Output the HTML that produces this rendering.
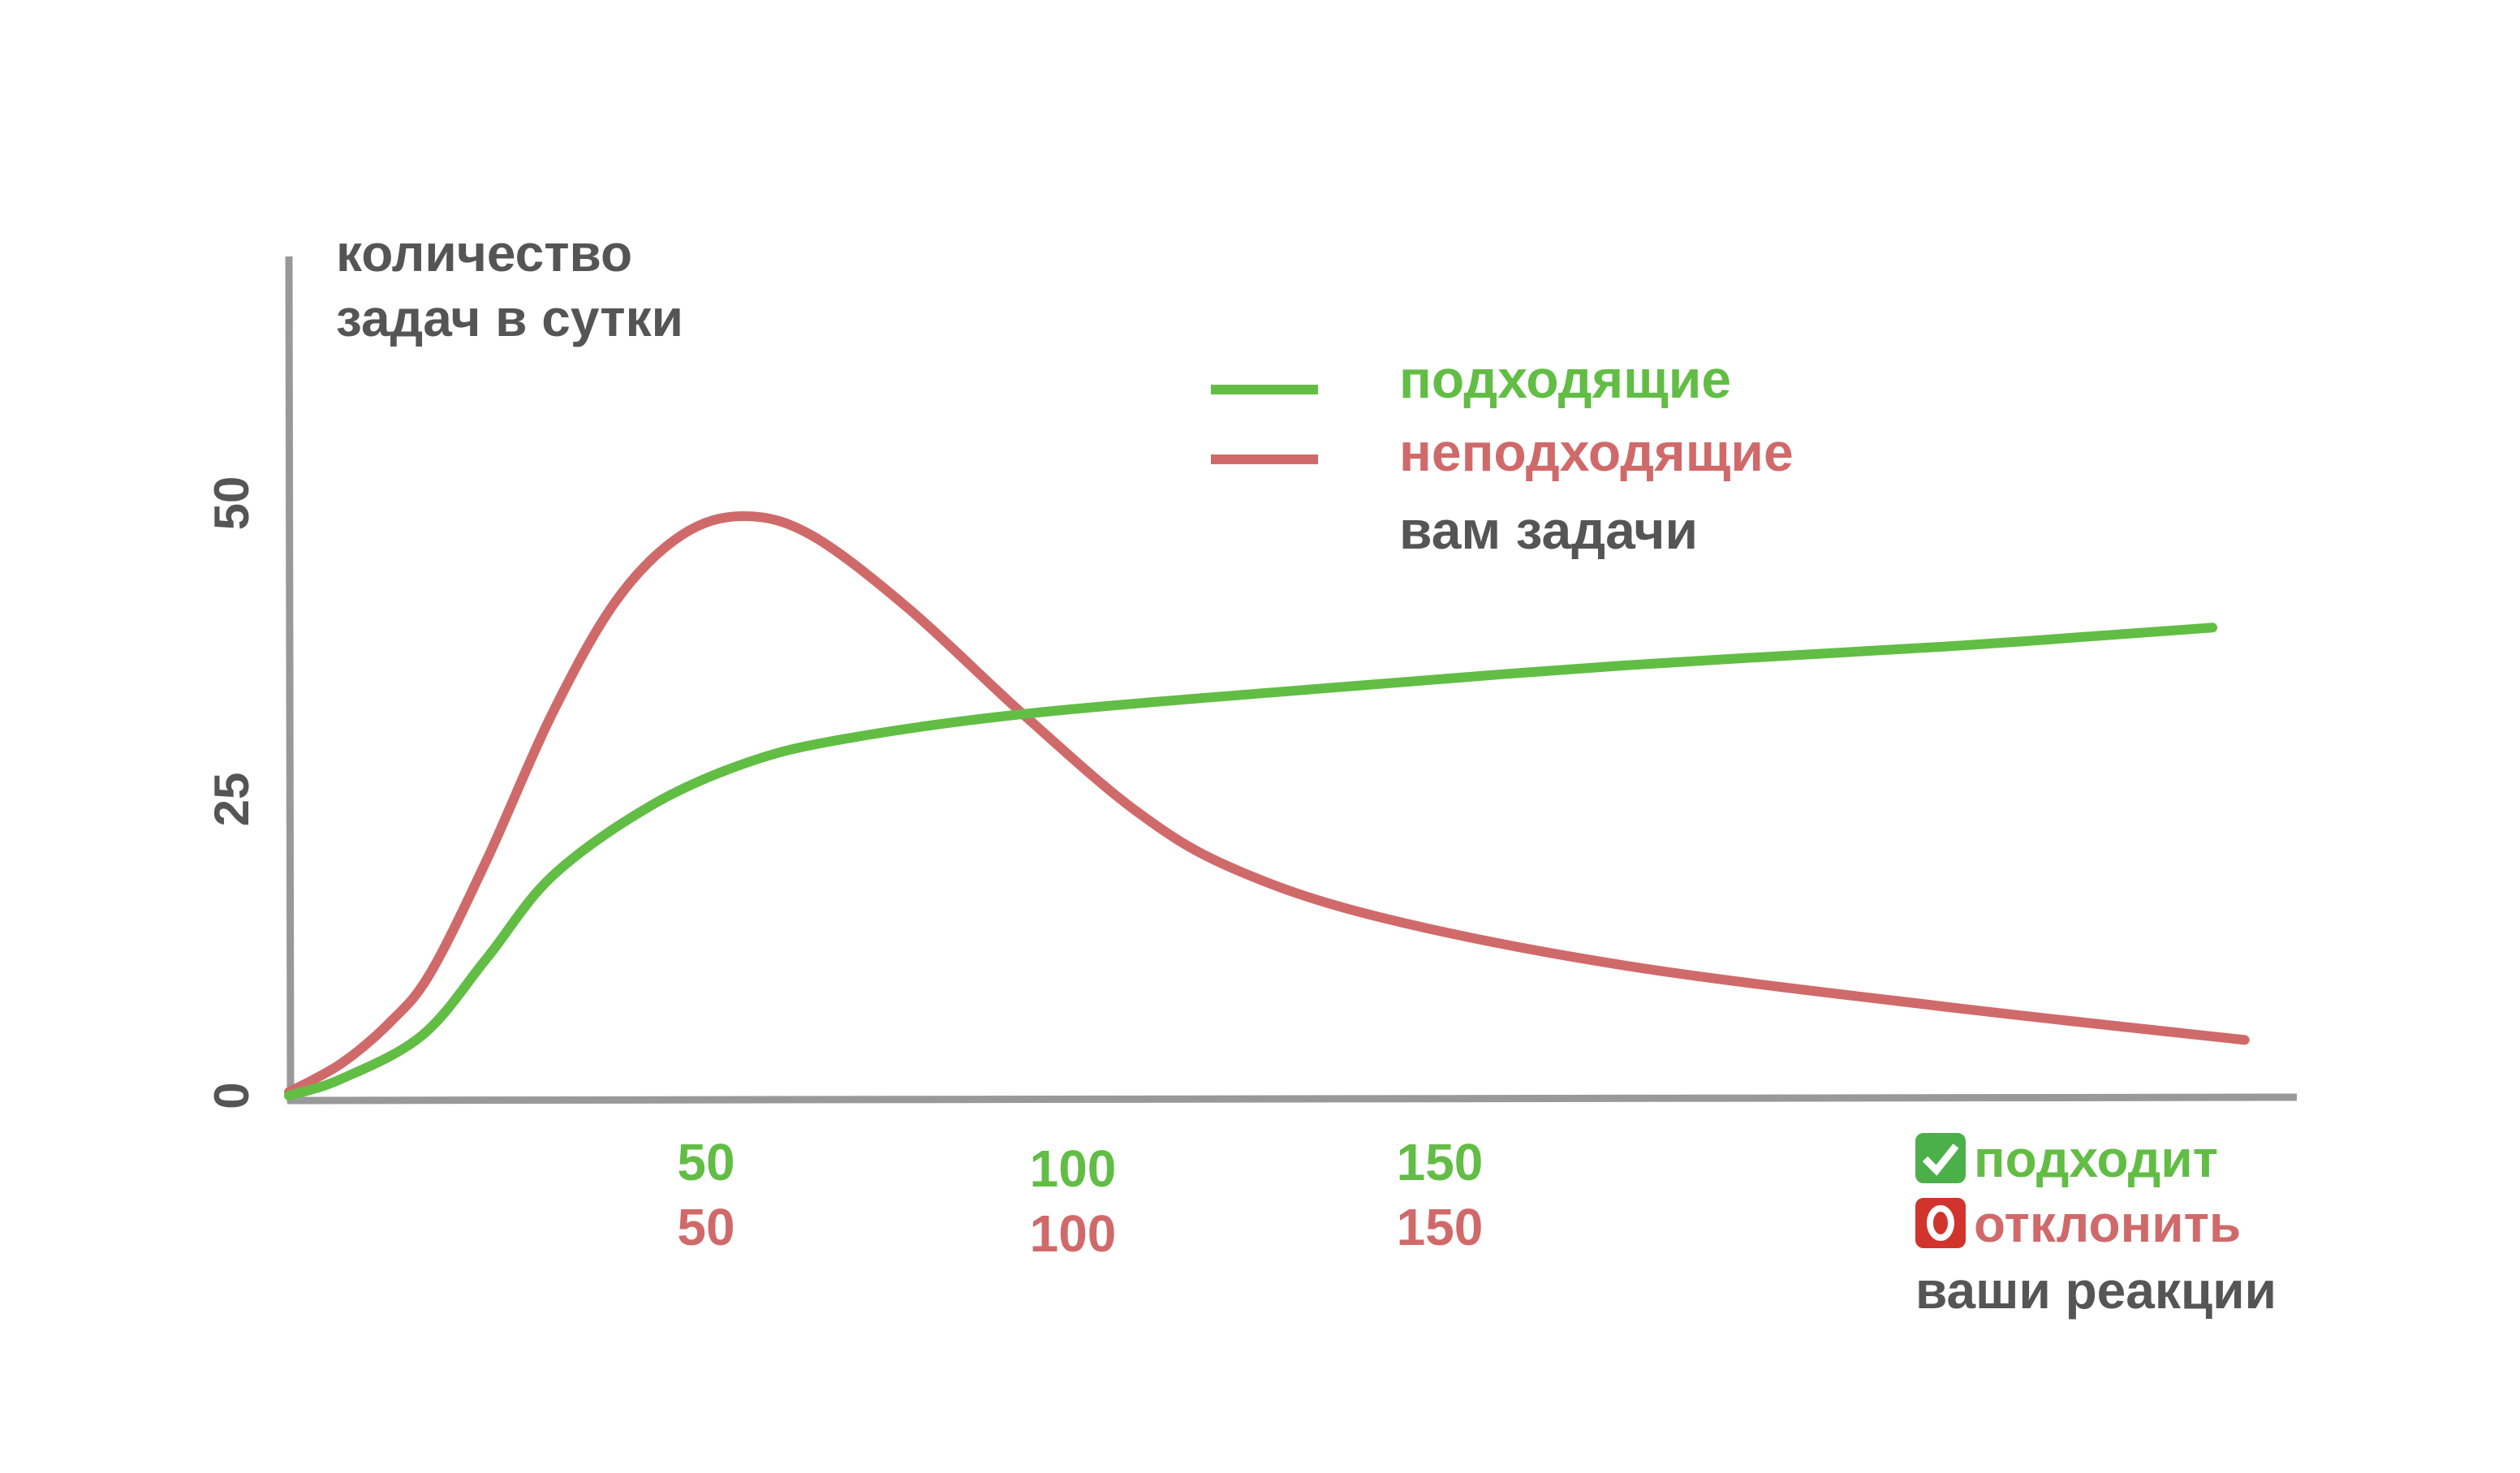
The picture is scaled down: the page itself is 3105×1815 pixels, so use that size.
<!DOCTYPE html>
<html><head><meta charset="utf-8"><style>
html,body{margin:0;padding:0;background:#fff;}
svg{display:block;font-family:"Liberation Sans",sans-serif;font-weight:bold;}
</style></head><body>
<svg id="chart" width="3105" height="1815" viewBox="0 0 3105 1815" xmlns="http://www.w3.org/2000/svg">
<rect width="3105" height="1815" fill="#fff"/>
<g id="axes">
<line x1="356" y1="316" x2="358" y2="1358" stroke="#999" stroke-width="9"/>
<line x1="354" y1="1356" x2="2830" y2="1352" stroke="#999" stroke-width="9"/>
</g>
<text x="414" y="334" font-size="64" fill="#555">количество</text>
<text x="414" y="414" font-size="64" fill="#555">задач в сутки</text>
<g id="yticks"></g>
<g id="xticks"></g>
<g id="series"></g>
<g>
<line x1="1492" y1="480" x2="1624" y2="480" stroke="#62bd45" stroke-width="12"/>
<line x1="1492" y1="566" x2="1624" y2="566" stroke="#d06a6a" stroke-width="12"/>
<text x="1724" y="490" font-size="66" fill="#62bd45">подходящие</text>
<text x="1724" y="580" font-size="66" fill="#d06a6a">неподходящие</text>
<text x="1724" y="676" font-size="66" fill="#555">вам задачи</text>
</g>
<g>
<rect x="2360" y="1396" width="62" height="62" rx="10" fill="#4cb04a"/>
<path d="M2372 1428 l14 14 l24 -30" stroke="#fff" stroke-width="9" fill="none"/>
<text x="2432" y="1450" font-size="64" fill="#62bd45">подходит</text>
<rect x="2360" y="1476" width="62" height="62" rx="10" fill="#d0342c"/>
<ellipse cx="2391" cy="1507" rx="13" ry="18" stroke="#fff" stroke-width="8" fill="none"/>
<text x="2432" y="1530" font-size="64" fill="#d06a6a">отклонить</text>
<text x="2360" y="1612" font-size="64" fill="#555">ваши реакции</text>
</g>
</svg>
<script>
const yTicks = [0, 25, 50];
const xTicks = [50, 100, 150];
const greenX = [0, 6.8, 17.4, 25.8, 34.3, 47, 59.7, 72.4, 95.7, 131.6, 174, 216, 250.8];
const greenY = [0, 1.4, 5.1, 11.6, 18.5, 24.4, 28.1, 30.1, 32.2, 34.2, 36.3, 37.9, 39.5];
const redX = [0, 6.8, 13.2, 18.4, 25.8, 34.3, 42.7, 51.2, 59.3, 68.1, 80.8, 95.7, 110.5, 123, 142, 174, 216, 255];
const redY = [0.3, 2.7, 6.2, 10.3, 19.9, 32.2, 41.8, 47.3, 48.9, 47.3, 41.1, 32.2, 24, 19.2, 15.1, 11, 7.5, 4.7];

const NS = "http://www.w3.org/2000/svg";
const sx = v => 356 + v * 9.45;
const sy = v => 1350 - v * 14.6;
const lx = v => 418 + v * 9.04;

const yg = document.getElementById('yticks');
yTicks.forEach(t => {
  const el = document.createElementNS(NS, 'text');
  
  
  el.setAttribute('transform', `translate(306,${sy(t)}) rotate(-90)`);
  el.setAttribute('text-anchor', 'middle');
  el.setAttribute('font-size', '60');
  el.setAttribute('fill', '#555');
  el.textContent = t;
  yg.appendChild(el);
});
const xg = document.getElementById('xticks');
xTicks.forEach(t => {
  [['#62bd45', 1454, 'x-tick-label-accept'], ['#d06a6a', 1534, 'x-tick-label-reject']].forEach(([c, y, n]) => {
    const el = document.createElementNS(NS, 'text');
    
    
    el.setAttribute('x', lx(t));
    el.setAttribute('y', y + (t === 100 ? 8 : 0));
    el.setAttribute('text-anchor', 'middle');
    el.setAttribute('font-size', '64');
    el.setAttribute('fill', c);
    el.textContent = t;
    xg.appendChild(el);
  });
});
function pathFor(xs, ys) {
  const p = xs.map((x, i) => [sx(x), sy(ys[i])]);
  let d = `M${p[0][0]},${p[0][1]}`;
  for (let i = 0; i < p.length - 1; i++) {
    const p0 = p[i - 1] || p[i], p1 = p[i], p2 = p[i + 1], p3 = p[i + 2] || p2;
    const c1 = [p1[0] + (p2[0] - p0[0]) / 6, p1[1] + (p2[1] - p0[1]) / 6];
    const c2 = [p2[0] - (p3[0] - p1[0]) / 6, p2[1] - (p3[1] - p1[1]) / 6];
    d += ` C${c1[0]},${c1[1]} ${c2[0]},${c2[1]} ${p2[0]},${p2[1]}`;
  }
  return d;
}
const sg = document.getElementById('series');
[[redX, redY, '#d06a6a', 'line-unsuitable'], [greenX, greenY, '#62bd45', 'line-suitable']].forEach(([xs, ys, c, n]) => {
  const el = document.createElementNS(NS, 'path');
  
  
  el.setAttribute('d', pathFor(xs, ys));
  el.setAttribute('stroke', c);
  el.setAttribute('stroke-width', '12');
  el.setAttribute('fill', 'none');
  el.setAttribute('stroke-linecap', 'round');
  sg.appendChild(el);
});
</script>
</body></html>
